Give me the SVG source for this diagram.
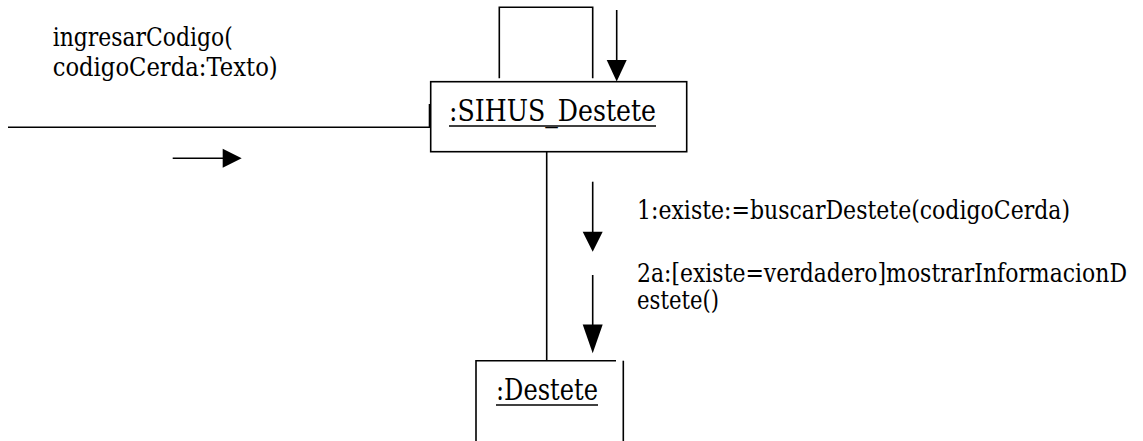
<svg xmlns="http://www.w3.org/2000/svg" width="1143" height="441" viewBox="0 0 1143 441">
<style>
.ln{stroke:#000;stroke-width:1.6;fill:none}
.ul{stroke:#000;stroke-width:1.5}
.box{stroke:#000;stroke-width:1.6;fill:#fff}
.lbl{font-family:"DejaVu Serif","Liberation Serif",serif;font-size:25.5px;fill:#000}
.obj{font-family:"DejaVu Serif","Liberation Serif",serif;font-size:29px;fill:#000}
.head{fill:#000;stroke:none}
</style>
<rect width="1143" height="441" fill="#fff"/>
<g id="connectors">
<path class="ln" d="M8,127.3 H430"/>
<path class="ln" d="M429.5,104 V128"/>
<path class="ln" d="M499.3,78.3 V7.3 H592.7 V78.3"/>
<path class="ln" d="M546.7,152 V361"/>
</g>
<g id="messages">
<path class="ln" d="M616.7,10 V61"/>
<polygon class="head" points="606.7,60 626.7,60 616.7,81.5"/>
<path class="ln" d="M172.7,158.3 H224"/>
<polygon class="head" points="222.7,148.8 222.7,167.8 241.7,158.3"/>
<path class="ln" d="M592.7,181.7 V233"/>
<polygon class="head" points="582.7,231.7 602.7,231.7 592.7,251.7"/>
<path class="ln" d="M592.7,275 V326"/>
<polygon class="head" points="582.7,324.5 602.7,324.5 592.7,353.3"/>
</g>
<g id="labels">
<text class="lbl" x="52.7" y="46" textLength="180" lengthAdjust="spacingAndGlyphs">ingresarCodigo(</text>
<text class="lbl" x="52.7" y="76" textLength="225" lengthAdjust="spacingAndGlyphs">codigoCerda:Texto)</text>
<text class="lbl" x="637" y="219" textLength="433" lengthAdjust="spacingAndGlyphs">1:existe:=buscarDestete(codigoCerda)</text>
<text class="lbl" x="637" y="282" textLength="490" lengthAdjust="spacingAndGlyphs">2a:[existe=verdadero]mostrarInformacionD</text>
<text class="lbl" x="637" y="309" textLength="82" lengthAdjust="spacingAndGlyphs">estete()</text>
</g>
<g id="node-sihus">
<rect class="box" x="430.7" y="81.7" width="256" height="70"/>
<text class="obj" x="449" y="121" textLength="207" lengthAdjust="spacingAndGlyphs">:SIHUS_Destete</text>
<line class="ul" x1="449" y1="126" x2="656" y2="126"/>
</g>
<g id="node-destete">
<path class="ln" d="M476,441 V360.7 H616"/>
<path class="ln" d="M623.3,360.7 V441"/>
<text class="obj" x="496" y="400" textLength="102" lengthAdjust="spacingAndGlyphs">:Destete</text>
<line class="ul" x1="496" y1="405" x2="598" y2="405"/>
</g>
</svg>
